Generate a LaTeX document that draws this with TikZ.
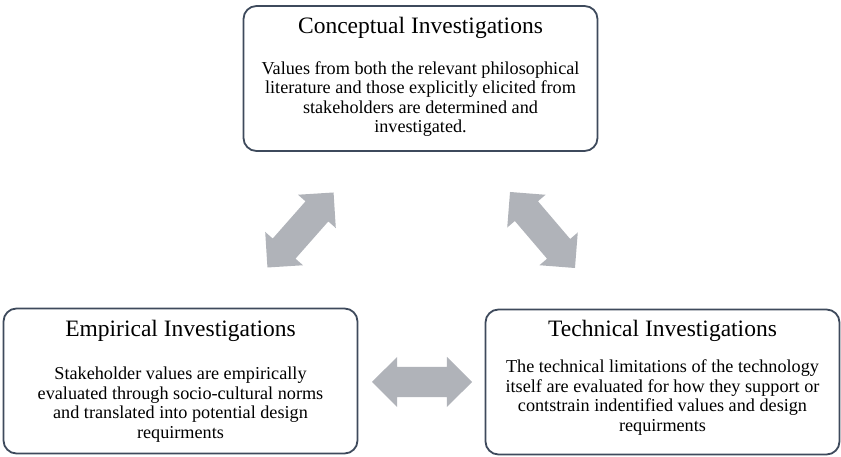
\documentclass[tikz,border=0pt]{standalone}
\usepackage{fontspec}
\setmainfont{Liberation Serif}
\usetikzlibrary{shapes.arrows}
\definecolor{boxedge}{RGB}{62,74,92}
\definecolor{arrowgray}{RGB}{176,179,185}
\begin{document}
\begin{tikzpicture}[x=1pt, y=1pt,
  invbox/.style={draw=boxedge, line width=1.8pt, rounded corners=13pt,
    minimum width=354pt, minimum height=145pt},
  invtitle/.style={font=\fontsize{23.5}{26}\selectfont, inner sep=0pt},
  invtext/.style={font=\fontsize{18.2}{19.6}\selectfont, align=center, inner sep=0pt},
  linkarrow/.style={double arrow, fill=arrowgray, inner sep=15pt,
    minimum width=50pt, minimum height=100pt, double arrow head extend=10pt}]
  \useasboundingbox (0,0) rectangle (841,457);

  % Boxes
  \node[invbox] (concept) at (420.5,378.5) {};
  \node[invbox] (empir) at (180.5,76) {};
  \node[invbox] (techn) at (662.5,75) {};

  % Titles
  \node[invtitle] (concepttitle) at ([yshift=-23pt]concept.north) {Conceptual Investigations};
  \node[invtitle] (empirtitle) at ([yshift=-23pt]empir.north) {Empirical Investigations};
  \node[invtitle] (techntitle) at ([yshift=-22pt]techn.north) {Technical Investigations};

  % Descriptions
  \node[invtext] (concepttext) at ([yshift=-94pt]concept.north)
    {Values from both the relevant philosophical\\literature and those explicitly elicited from\\stakeholders are determined and\\investigated.};
  \node[invtext] (empirtext) at ([yshift=-97pt]empir.north)
    {Stakeholder values are empirically\\evaluated through socio-cultural norms\\and translated into potential design\\requirments};
  \node[invtext] (techntext) at ([yshift=-89pt]techn.north)
    {The technical limitations of the technology\\itself are evaluated for how they support or\\contstrain indentified values and design\\requirments};

  % Arrows between the investigations
  \node[linkarrow, rotate=48.6] (leftlink) at (300.5,227) {};
  \node[linkarrow, rotate=-49.5] (rightlink) at (542.5,227) {};
  \node[linkarrow] (bottomlink) at (422,75) {};
\end{tikzpicture}
\end{document}
